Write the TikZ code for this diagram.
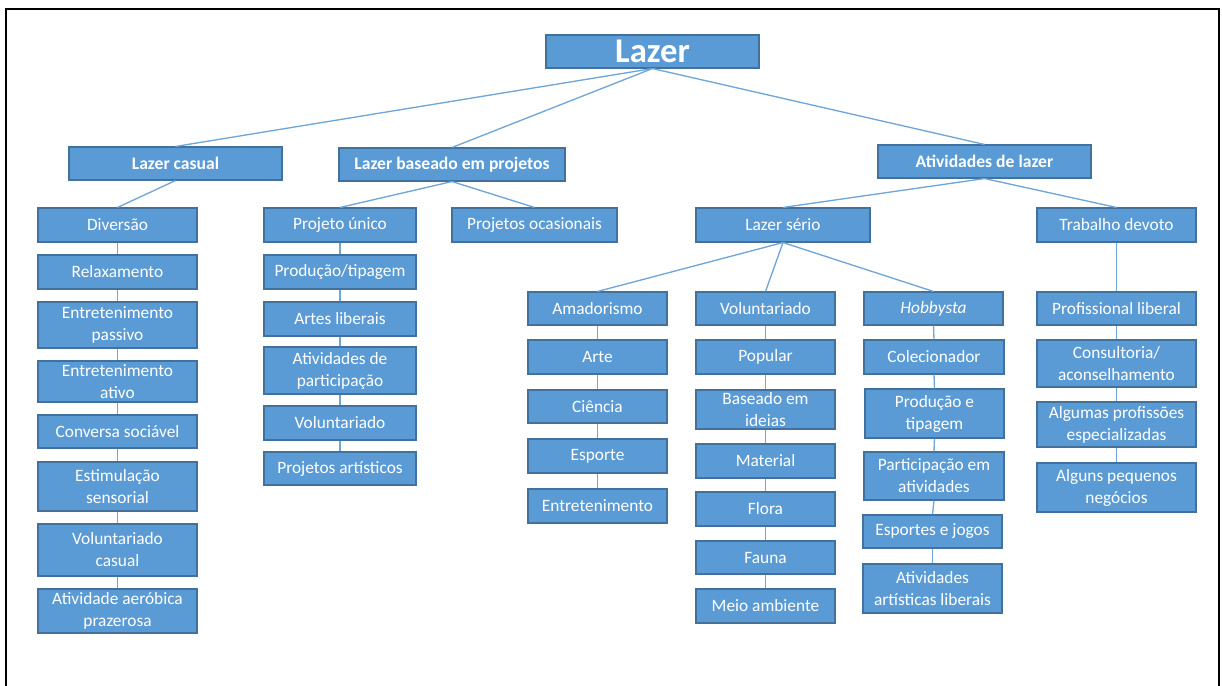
\documentclass[tikz,border=0pt]{standalone}
\usepackage{fontspec}
\setmainfont{Carlito}
\definecolor{boxfill}{HTML}{5B9BD5}
\definecolor{boxline}{HTML}{41719C}
\definecolor{linkline}{HTML}{6FA6DA}

% \mkbox[style]{name}{x1}{y1}{x2}{y2}{text}: a box given by its corners (pixel units)
\newcommand\mkbox[7][box]{%
  \node[#1, minimum width={(#5-#3)*0.75pt}, minimum height={(#6-#4)*0.75pt}]
    (#2) at ({(#3+#5)/2},{(#4+#6)/2}) {#7};}

\begin{document}
\begin{tikzpicture}[x=0.75pt,y=-0.75pt,
  box/.style={draw=boxline, fill=boxfill, line width=0.8pt, text=white,
    align=center, inner sep=0pt, font=\fontsize{13}{16.5}\selectfont},
  headbox/.style={box, font=\bfseries\fontsize{13.2}{16}\selectfont},
  rootbox/.style={box, font=\bfseries\fontsize{26}{30}\selectfont},
  link/.style={draw=linkline, line width=1pt},
  frame/.style={draw=black, line width=1.6pt}]

\useasboundingbox (0,0) rectangle (1222,686);

% open frame (no bottom edge)
\coordinate (fbl) at (6,686);
\coordinate (ftl) at (6,9);
\coordinate (ftr) at (1219,9);
\coordinate (fbr) at (1219,686);
\draw[frame] (fbl) -- (ftl) -- (ftr) -- (fbr);

% root and first level
\mkbox[rootbox]{lazer}{546}{35}{759}{68}{Lazer}
\mkbox[headbox]{casual}{69}{147}{282}{180}{Lazer casual}
\mkbox[headbox]{projetos}{339}{148}{565}{181}{Lazer baseado em projetos}
\mkbox[headbox]{atividades}{878}{145}{1091}{178}{Atividades de lazer}

% second level
\mkbox{diversao}{38}{208}{197}{242}{Diversão}
\mkbox{unico}{264}{208}{416}{242}{Projeto único}
\mkbox{ocasionais}{452}{208}{617}{242}{Projetos ocasionais}
\mkbox{serio}{696}{208}{870}{242}{Lazer sério}
\mkbox{devoto}{1037}{208}{1196}{242}{Trabalho devoto}

% lazer casual column
\mkbox{relax}{38}{255}{197}{289}{Relaxamento}
\mkbox{passivo}{38}{302}{197}{348}{Entretenimento\\passivo}
\mkbox{ativo}{38}{361}{197}{402}{Entretenimento\\ativo}
\mkbox{conversa}{38}{415}{197}{448}{Conversa sociável}
\mkbox{estim}{38}{462}{197}{511}{Estimulação\\sensorial}
\mkbox{volcasual}{38}{524}{197}{576}{Voluntariado\\casual}
\mkbox{aerobica}{38}{589}{197}{633}{Atividade aeróbica\\prazerosa}

% projeto unico column
\mkbox{producao}{264}{255}{416}{289}{Produção/tipagem}
\mkbox{artes}{264}{302}{416}{336}{Artes liberais}
\mkbox{particip}{264}{347}{416}{394}{Atividades de\\participação}
\mkbox{volproj}{264}{406}{416}{440}{Voluntariado}
\mkbox{artisticos}{264}{452}{416}{485}{Projetos artísticos}

% lazer serio branches
\mkbox{amador}{528}{292}{667}{325}{Amadorismo}
\mkbox{arte}{528}{340}{667}{374}{Arte}
\mkbox{ciencia}{528}{390}{667}{423}{Ciência}
\mkbox{esporte}{528}{439}{667}{473}{Esporte}
\mkbox{entret}{528}{489}{667}{523}{Entretenimento}

\mkbox{volserio}{696}{292}{835}{325}{Voluntariado}
\mkbox{popular}{696}{340}{835}{374}{Popular}
\mkbox{ideias}{696}{390}{835}{429}{Baseado em\\ideias}
\mkbox{material}{696}{444}{835}{478}{Material}
\mkbox{flora}{696}{492}{835}{526}{Flora}
\mkbox{fauna}{696}{541}{835}{574}{Fauna}
\mkbox{meio}{696}{589}{835}{623}{Meio ambiente}

\mkbox{hobby}{864}{292}{1003}{325}{\itshape Hobbysta}
\mkbox{colec}{864}{340}{1004}{374}{Colecionador}
\mkbox{prodtip}{865}{389}{1004}{438}{Produção e\\tipagem}
\mkbox{partativ}{864}{452}{1004}{500}{Participação em\\atividades}
\mkbox{jogos}{863}{515}{1002}{548}{Esportes e jogos}
\mkbox{artlib}{863}{564}{1002}{613}{Atividades\\artísticas liberais}

% trabalho devoto column
\mkbox{profis}{1037}{292}{1196}{325}{Profissional liberal}
\mkbox{consult}{1037}{340}{1196}{387}{Consultoria/\\aconselhamento}
\mkbox{especial}{1037}{402}{1196}{447}{Algumas profissões\\especializadas}
\mkbox{negocios}{1037}{463}{1196}{512}{Alguns pequenos\\negócios}

% tree connectors
\foreach \p/\c in {lazer/casual, lazer/projetos, lazer/atividades,
    casual/diversao, projetos/unico, projetos/ocasionais,
    atividades/serio, atividades/devoto,
    serio/amador, serio/volserio, serio/hobby}
  \draw[link] (\p.south) -- (\c.north);

% vertical chains
\foreach \p/\c in {diversao/relax, relax/passivo, passivo/ativo, ativo/conversa,
    conversa/estim, estim/volcasual, volcasual/aerobica,
    unico/producao, producao/artes, artes/particip, particip/volproj, volproj/artisticos,
    amador/arte, arte/ciencia, ciencia/esporte, esporte/entret,
    volserio/popular, popular/ideias, ideias/material, material/flora, flora/fauna, fauna/meio,
    hobby/colec, colec/prodtip, prodtip/partativ, partativ/jogos, jogos/artlib,
    devoto/profis, profis/consult, consult/especial, especial/negocios}
  \draw[link] (\p.south) -- (\c.north);

\end{tikzpicture}
\end{document}
